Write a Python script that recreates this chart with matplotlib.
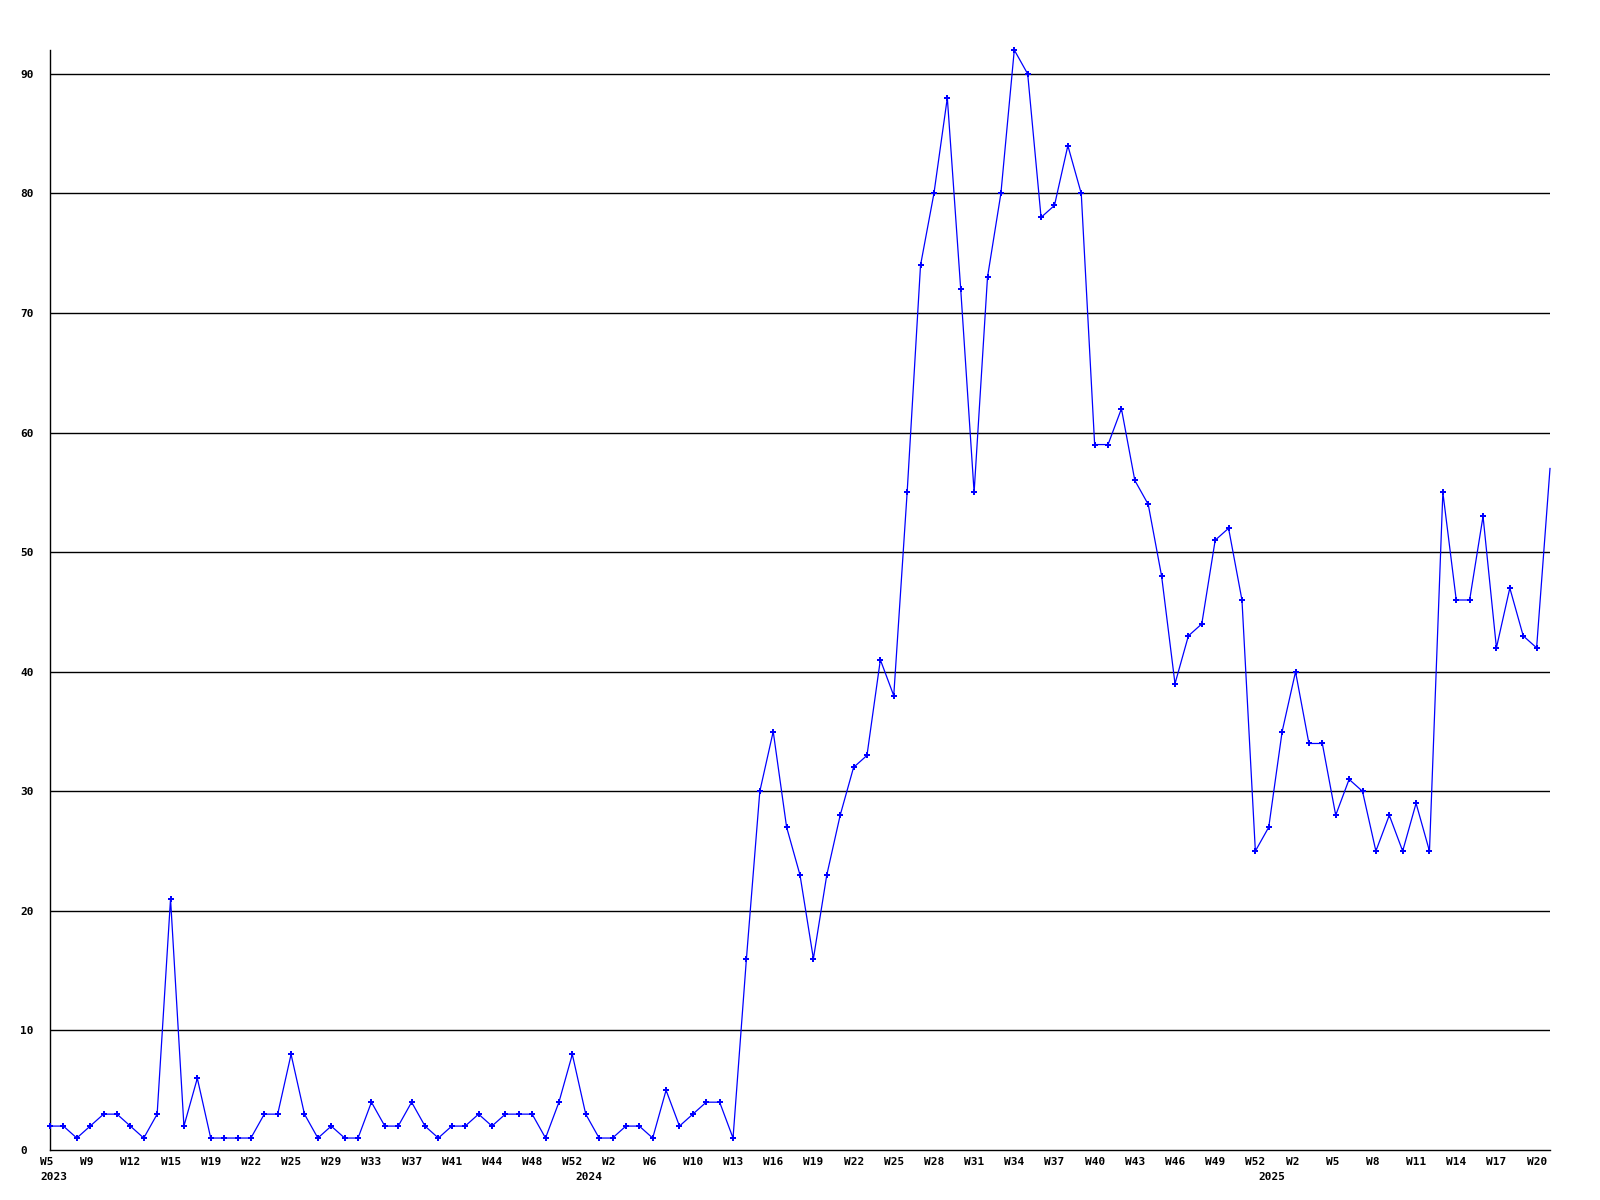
import matplotlib
matplotlib.use('Agg')
import matplotlib.pyplot as plt
import matplotlib.transforms as mtransforms
import numpy as np

plt.rcParams['font.family'] = ['DejaVu Sans Mono', 'DejaVu Sans']

values = [2, 2, 1, 2, 3, 3, 2, 1, 3, 21, 2, 6, 1, 1, 1, 1, 3, 3, 8, 3,
          1, 2, 1, 1, 4, 2, 2, 4, 2, 1, 2, 2, 3, 2, 3, 3, 3, 1, 4, 8,
          3, 1, 1, 2, 2, 1, 5, 2, 3, 4, 4, 1, 16, 30, 35, 27, 23, 16, 23, 28,
          32, 33, 41, 38, 55, 74, 80, 88, 72, 55, 73, 80, 92, 90, 78, 79, 84, 80, 59, 59,
          62, 56, 54, 48, 39, 43, 44, 51, 52, 46, 25, 27, 35, 40, 34, 34, 28, 31, 30, 25,
          28, 25, 29, 25, 55, 46, 46, 53, 42, 47, 43, 42, 57]

week_labels = ["W5", "W9", "W12", "W15", "W19", "W22", "W25", "W29", "W33", "W37",
               "W41", "W44", "W48", "W52", "W2", "W6", "W10", "W13", "W16", "W19",
               "W22", "W25", "W28", "W31", "W34", "W37", "W40", "W43", "W46", "W49",
               "W52", "W2", "W5", "W8", "W11", "W14", "W17", "W20"]
years = ["2023", "2024", "2025"]
year_pos = [0, 39.2, 90.2]

y_ticks = list(range(0, 100, 10))

fig = plt.figure(figsize=(16, 12), dpi=100)
ax = fig.add_axes([50 / 1600, 50 / 1200, 1500 / 1600, 1100 / 1200])

x = np.arange(len(values))
ax.plot(x, values, color='#0000ff', lw=0.9, marker='P', markersize=4.5,
        markeredgewidth=0, markevery=list(range(len(values) - 1)),
        clip_on=False, zorder=3)

ax.set_xlim(0, len(values) - 1)
ax.set_ylim(0, max(values))

for v in y_ticks[1:]:
    ax.axhline(v, color='black', lw=1.0, zorder=1)

for side in ['top', 'right']:
    ax.spines[side].set_visible(False)
for side in ['left', 'bottom']:
    ax.spines[side].set_color('black')
    ax.spines[side].set_linewidth(1.0)

ax.set_yticks(y_ticks)
ax.set_yticklabels([str(v) for v in y_ticks], ha='left', fontsize=8, fontweight='bold')
ax.tick_params(axis='y', length=0, pad=21.6)

ax.set_xticks(range(0, len(values), 3))
ax.set_xticklabels(week_labels, ha='left', fontsize=8, fontweight='bold')
ax.tick_params(axis='x', length=0, pad=5)
shift = mtransforms.ScaledTranslation(-10 / 100, 0, fig.dpi_scale_trans)
for lab in ax.get_xticklabels():
    lab.set_transform(lab.get_transform() + shift)

sec = ax.secondary_xaxis('bottom')
sec.set_xticks(year_pos)
sec.set_xticklabels(years, ha='left', fontsize=8, fontweight='bold')
sec.tick_params(axis='x', length=0, pad=16)
sec.spines['bottom'].set_visible(False)
first = sec.get_xticklabels()[0]
first.set_transform(first.get_transform() + shift)

fig.savefig('out.png', dpi=100, facecolor='white')
